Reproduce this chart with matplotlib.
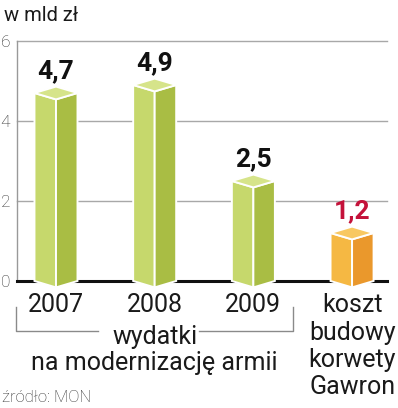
import numpy as np
import matplotlib
matplotlib.use('Agg')
import matplotlib.pyplot as plt
from matplotlib.patches import Polygon
from matplotlib.lines import Line2D

plt.rcParams['font.family'] = ['Roboto', 'DejaVu Sans']

# data
categories = ['2007', '2008', '2009', 'koszt\nbudowy\nkorwety\nGawron']
values = [4.7, 4.9, 2.5, 1.2]
value_labels = ['4,7', '4,9', '2,5', '1,2']
yticks = [0, 2, 4, 6]

green = ('#c6d86c', '#a9bd44', '#d6e48a')
orange = ('#f5b843', '#ea982c', '#f8c862')
bar_colors = [green, green, green, orange]
label_colors = ['#111111', '#111111', '#111111', '#c4123a']

W, H = 398, 408
fig = plt.figure(figsize=(W / 100, H / 100), dpi=100)

# axes placed in pixels: left 17, right 387, y=0 at 281, y=6 at 41
ax = fig.add_axes([17 / W, (H - 281) / H, 370 / W, 240 / H])
ax.set_xlim(-0.395, 3.354)
ax.set_ylim(0, 6)

for t in yticks[1:]:
    ax.axhline(t, color='#a8a8a8', lw=1, zorder=1, clip_on=False)

for s in ['top', 'right']:
    ax.spines[s].set_visible(False)
ax.spines['left'].set_color('#999999')
ax.spines['left'].set_linewidth(1)
ax.spines['bottom'].set_color('#111111')
ax.spines['bottom'].set_linewidth(2.2)

hw = 0.218   # half bar width (x units)
d = 0.16     # depth of the top diamond (y units)
for i, (v, (cl, cr, ct)) in enumerate(zip(values, bar_colors)):
    left = Polygon([(i - hw, 0), (i - hw, v), (i, v - d), (i, -d)],
                   closed=True, facecolor=cl, edgecolor='white', lw=1.4,
                   zorder=3, clip_on=False)
    right = Polygon([(i, -d), (i, v - d), (i + hw, v), (i + hw, 0)],
                    closed=True, facecolor=cr, edgecolor='white', lw=1.4,
                    zorder=3, clip_on=False)
    top = Polygon([(i - hw, v), (i, v + d), (i + hw, v), (i, v - d)],
                  closed=True, facecolor=ct, edgecolor='white', lw=1.4,
                  zorder=4, clip_on=False)
    for p in (left, right, top):
        ax.add_patch(p)
    ax.text(i, v + d + 0.22, value_labels[i], ha='center', va='baseline',
            fontsize=19, fontweight='bold', color=label_colors[i], zorder=5)

ax.set_yticks(yticks)
ax.set_yticklabels([str(t) for t in yticks], fontsize=12.5, color='#333333',
                   fontweight='light')
ax.tick_params(axis='y', length=0, pad=5)
ax.set_xticks(range(len(categories)))
ax.set_xticklabels(categories, fontsize=18, color='#1a1a1a', linespacing=1.16)
ax.tick_params(axis='x', length=0, pad=9)

# unit label and source
fig.text(4 / W, 1 - 21 / H, 'w mld zł', fontsize=14.5, color='#1a1a1a',
         ha='left', va='baseline')
fig.text(2 / W, 1 - 402 / H, 'źródło: MON', fontsize=12, color='#333333',
         fontweight='light', ha='left', va='baseline')

# bracket under the years
bc = '#8a8a8a'
def px_line(xs, ys):
    fig.add_artist(Line2D([x / W for x in xs], [1 - y / H for y in ys],
                          transform=fig.transFigure, color=bc, lw=1))
px_line([16, 16, 98], [307, 331, 331])
px_line([199, 293, 293], [331, 331, 307])
fig.text(155 / W, 1 - 344 / H, 'wydatki', fontsize=18, color='#1a1a1a',
         ha='center', va='baseline')
fig.text(154 / W, 1 - 370 / H, 'na modernizację armii', fontsize=18,
         color='#1a1a1a', ha='center', va='baseline')

fig.savefig('out.png', dpi=100)
